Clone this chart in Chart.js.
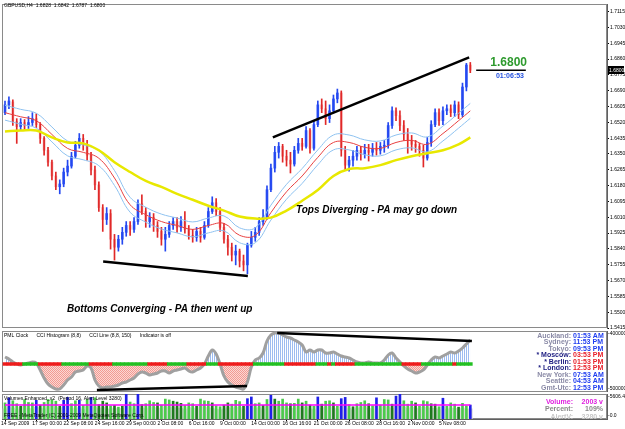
<!DOCTYPE html>
<html>
<head>
<meta charset="utf-8">
<script src="https://cdn.jsdelivr.net/npm/chart.js@4.4.1/dist/chart.umd.min.js"></script>
<style>
  html, body { margin: 0; padding: 0; background: #fff; }
  #wrap { position: relative; width: 625px; height: 429px; overflow: hidden; background: #fff; }
  canvas { position: absolute; left: 0; }
  #main { top: 0; }
  #cci { top: 330px; }
  #vol { top: 392px; }
</style>
</head>
<body>
<div id="wrap">
  <canvas id="main" width="625" height="334"></canvas>
  <canvas id="cci" width="625" height="62"></canvas>
  <canvas id="vol" width="625" height="37"></canvas>
</div>
<script>
// GBPUSD H4 — price panel, CCI histogram panel, volume panel

const symbol = 'GBPUSD,H4';

const open = [1.6572,1.6614,1.6630,1.6524,1.6497,1.6519,1.6503,1.6519,1.6540,1.6508,
  1.6434,1.6370,1.6306,1.6232,1.6174,1.6189,1.6253,1.6285,1.6338,1.6397,
  1.6434,1.6402,1.6344,1.6264,1.6184,1.6062,1.5998,1.6030,1.5892,1.5849,
  1.5892,1.5929,1.5966,1.5945,1.5987,1.6083,1.6041,1.5987,1.6009,1.5966,
  1.5934,1.5892,1.5918,1.5966,1.5987,1.5956,1.5987,1.5945,1.5913,1.5902,
  1.5934,1.5902,1.5966,1.6041,1.6088,1.6041,1.5956,1.5892,1.5849,1.5807,
  1.5828,1.5775,1.5754,1.5860,1.5902,1.5929,1.5987,1.6009,1.6158,1.6274,
  1.6359,1.6391,1.6338,1.6317,1.6296,1.6370,1.6407,1.6391,1.6476,1.6381,
  1.6508,1.6614,1.6593,1.6540,1.6582,1.6646,1.6678,1.6370,1.6290,1.6317,
  1.6338,1.6370,1.6349,1.6370,1.6359,1.6381,1.6370,1.6391,1.6397,1.6503,
  1.6582,1.6556,1.6503,1.6455,1.6423,1.6402,1.6391,1.6370,1.6328,1.6412,
  1.6508,1.6572,1.6529,1.6582,1.6593,1.6572,1.6614,1.6561,1.6710,1.6828];

const high = [1.6635,1.6657,1.6641,1.6540,1.6540,1.6535,1.6551,1.6572,1.6566,1.6519,
  1.6444,1.6386,1.6317,1.6253,1.6211,1.6274,1.6317,1.6359,1.6418,1.6460,
  1.6455,1.6423,1.6359,1.6285,1.6200,1.6078,1.6062,1.6051,1.5918,1.5913,
  1.5956,1.5987,1.5987,1.6009,1.6104,1.6131,1.6062,1.6035,1.6030,1.5987,
  1.5956,1.5956,1.5987,1.6009,1.6009,1.6014,1.6041,1.5966,1.5945,1.5956,
  1.5956,1.5987,1.6062,1.6120,1.6110,1.6062,1.5977,1.5913,1.5871,1.5860,
  1.5839,1.5807,1.5871,1.5934,1.5956,1.6009,1.6051,1.6179,1.6296,1.6391,
  1.6412,1.6402,1.6370,1.6359,1.6391,1.6434,1.6434,1.6497,1.6487,1.6529,
  1.6635,1.6646,1.6635,1.6614,1.6667,1.6699,1.6689,1.6391,1.6338,1.6370,
  1.6391,1.6391,1.6402,1.6402,1.6407,1.6412,1.6412,1.6423,1.6519,1.6604,
  1.6598,1.6582,1.6529,1.6487,1.6450,1.6423,1.6407,1.6397,1.6439,1.6529,
  1.6593,1.6593,1.6604,1.6614,1.6614,1.6635,1.6630,1.6731,1.6837,1.6842];

const low = [1.6561,1.6593,1.6503,1.6407,1.6476,1.6476,1.6487,1.6503,1.6492,1.6407,
  1.6344,1.6285,1.6211,1.6158,1.6136,1.6174,1.6232,1.6274,1.6328,1.6381,
  1.6370,1.6317,1.6237,1.6158,1.6041,1.5934,1.5971,1.5839,1.5780,1.5828,
  1.5865,1.5908,1.5913,1.5929,1.5971,1.6025,1.5956,1.5956,1.5934,1.5902,
  1.5860,1.5828,1.5902,1.5945,1.5929,1.5934,1.5924,1.5892,1.5876,1.5881,
  1.5876,1.5892,1.5956,1.6030,1.6019,1.5934,1.5871,1.5807,1.5775,1.5754,
  1.5743,1.5722,1.5706,1.5849,1.5881,1.5913,1.5966,1.5998,1.6147,1.6253,
  1.6328,1.6306,1.6285,1.6248,1.6285,1.6354,1.6370,1.6381,1.6354,1.6370,
  1.6497,1.6572,1.6508,1.6519,1.6572,1.6625,1.6338,1.6264,1.6258,1.6285,
  1.6317,1.6317,1.6328,1.6312,1.6338,1.6344,1.6349,1.6359,1.6381,1.6487,
  1.6529,1.6476,1.6423,1.6354,1.6370,1.6359,1.6338,1.6280,1.6317,1.6391,
  1.6497,1.6503,1.6508,1.6561,1.6551,1.6551,1.6540,1.6551,1.6689,1.6787];

const close = [1.6614,1.6635,1.6524,1.6497,1.6519,1.6503,1.6519,1.6540,1.6508,1.6434,
  1.6370,1.6306,1.6232,1.6174,1.6189,1.6253,1.6285,1.6338,1.6397,1.6434,
  1.6402,1.6344,1.6264,1.6184,1.6062,1.5998,1.6030,1.5892,1.5849,1.5892,
  1.5929,1.5966,1.5945,1.5987,1.6083,1.6041,1.5987,1.6009,1.5966,1.5934,
  1.5892,1.5918,1.5966,1.5987,1.5956,1.5987,1.5945,1.5913,1.5902,1.5934,
  1.5902,1.5966,1.6041,1.6088,1.6041,1.5956,1.5892,1.5849,1.5807,1.5828,
  1.5775,1.5754,1.5860,1.5902,1.5929,1.5987,1.6009,1.6158,1.6274,1.6359,
  1.6391,1.6338,1.6317,1.6296,1.6370,1.6407,1.6391,1.6476,1.6381,1.6508,
  1.6614,1.6593,1.6540,1.6582,1.6646,1.6678,1.6370,1.6290,1.6317,1.6338,
  1.6370,1.6349,1.6370,1.6359,1.6381,1.6370,1.6391,1.6397,1.6503,1.6582,
  1.6556,1.6503,1.6455,1.6423,1.6402,1.6391,1.6370,1.6328,1.6412,1.6508,
  1.6572,1.6529,1.6582,1.6593,1.6572,1.6614,1.6561,1.6710,1.6828,1.6800];

// moving averages, read every 4th bar
const maBars = [0,4,8,12,16,20,24,28,32,36,40,44,48,52,56,60,64,68,72,76,80,84,88,92,96,100,104,108,112,116,119];
const maSlow = [1.6471,1.6476,1.6476,1.6439,1.6412,1.6407,1.6370,1.6306,1.6253,1.6205,1.6173,1.6136,1.6104,1.6072,1.6046,1.6014,
  1.6003,1.6008,1.6046,1.6099,1.6157,1.6232,1.6269,1.6274,1.6290,1.6317,1.6338,1.6354,1.6370,1.6402,1.6439];
const maMid = [1.6572,1.6550,1.6529,1.6455,1.6380,1.6359,1.6327,1.6221,1.6077,1.6024,1.5987,1.5966,1.5945,1.5966,1.5977,1.5913,
  1.5913,1.6035,1.6147,1.6232,1.6332,1.6412,1.6412,1.6386,1.6380,1.6412,1.6423,1.6402,1.6460,1.6529,1.6582];
const maUpper = [1.6612,1.6590,1.6569,1.6495,1.6420,1.6399,1.6367,1.6261,1.6117,1.6064,1.6027,1.6006,1.5985,1.6006,1.6017,1.5953,
  1.5953,1.6075,1.6187,1.6272,1.6372,1.6452,1.6452,1.6426,1.6420,1.6452,1.6463,1.6442,1.6500,1.6569,1.6622];
const maLower = [1.6532,1.6510,1.6489,1.6415,1.6340,1.6319,1.6287,1.6181,1.6037,1.5984,1.5947,1.5926,1.5905,1.5926,1.5937,1.5873,
  1.5873,1.5995,1.6107,1.6192,1.6292,1.6372,1.6372,1.6346,1.6340,1.6372,1.6383,1.6362,1.6420,1.6489,1.6542];

// hand-drawn trend lines: [bar, price]
const topsLine = [[68.5, 1.6439], [118.7, 1.6869]];
const bottomsLine = [[25.1, 1.5772], [62.1, 1.5695]];

const priceTicks = [1.5415,1.5500,1.5585,1.5670,1.5755,1.5840,1.5925,1.6010,1.6095,1.6180,1.6265,
  1.6350,1.6435,1.6520,1.6605,1.6690,1.6775,1.6860,1.6945,1.7030,1.7115];
const barTimer = '01:06:53';

// CCI histogram
const cci = [70,50,20,0,-10,0,10,20,10,-60,
  -140,-200,-230,-250,-250,-210,-160,-130,-80,-70,
  -60,-20,-40,-160,-220,-240,-230,-230,-220,-210,
  -190,-180,-160,-140,-100,-80,-90,-110,-100,-90,
  -70,-70,-90,-70,-60,-50,-40,-70,-80,-60,
  -40,0,80,140,100,0,-120,-180,-210,-230,
  -240,-250,-180,-30,40,60,110,230,290,310,
  310,290,270,260,240,220,190,120,140,120,
  140,140,110,110,120,100,80,70,60,40,
  20,10,10,20,10,10,10,40,90,110,
  60,20,-20,-50,-70,-90,-80,-60,-10,40,
  70,60,80,100,120,110,130,160,200,240];
const cciTrend = [0,0,0,0,0,1,1,1,1,0, 0,0,0,0,0,1,1,1,1,1, 1,1,0,0,0,0,0,0,1,1,
  1,1,1,1,1,1,1,0,0,0, 0,0,1,1,1,1,1,0,0,0, 0,0,1,1,1,0,0,0,0,0,
  0,0,0,0,1,1,1,1,1,1, 1,1,0,0,0,0,0,0,0,0, 1,1,1,0,1,0,0,0,0,0,
  1,1,1,1,1,1,1,1,1,1, 1,1,0,0,0,0,0,1,1,1, 1,1,1,1,1,0,1,1,1,1];
const cciTopLine = [[69.6, 310], [119.4, 230]];
const cciBottomLine = [[23.5, -260], [61.9, -220]];
const cciScaleLabels = ['400000', '500000'];

const clockCities = ['Auckland', 'Sydney', 'Tokyo', '* Moscow', '* Berlin', '* London', 'New York', 'Seattle', 'Gmt-Utc'];
const clockTimes = ['01:53 AM', '11:53 PM', '09:53 PM', '03:53 PM', '01:53 PM', '12:53 PM', '07:53 AM', '04:53 AM', '12:53 PM'];
const clockOpen = [0, 0, 0, 1, 1, 1, 0, 0, 0];

// volumes
const vol = [3800,5000,4300,3600,3000,4600,3900,3800,4400,3300,
  3900,4600,4500,4200,3000,4400,5100,3600,4300,4400,
  3200,4600,5100,5000,3400,4200,3800,3100,3200,2800,
  3000,5800,4000,3600,6200,3400,3600,4300,3900,3800,
  3300,4700,4500,4200,4000,3700,3200,3800,3600,3000,
  4700,4300,4200,3800,3100,2900,3300,3800,3500,4400,
  4100,3000,4800,5200,3600,3800,3200,4600,5600,4700,
  4200,4700,3800,3600,3700,4700,3800,4200,3300,3000,
  5200,3500,4200,4300,3800,3000,4800,5100,3400,2900,
  3600,3900,4300,3600,3100,5000,3300,4600,4500,3500,
  5400,5900,4300,3500,4200,3800,3000,4300,4100,3600,
  3500,2900,4900,3000,3800,3500,2800,3700,3100,3300];
const volType = ('gbggdgggbd' + 'ggggdbbggb' + 'ggbgdddgdg' + 'dbggbdgggd' + 'gggdddgggd' + 'gggdggddgg' +
  'gdbbggdgbd' + 'gggdggdgdg' + 'bdggdgbbgd' + 'gggdgbgggd' + 'bbgggdgggd' + 'dgbgggdggb').split('');
const volAvg = [2400,2900,2600,2200,2700,3000,2500,2300,2800,2600,
  2400,2900,3100,2700,2500,2800,3000,2600,2400,2700,
  2300,2900,3100,2800,2500,2700,2400,2200,2600,2300,
  2500,3100,2800,2400,3200,2600,2500,2900,2700,2600,
  2400,2900,2800,2700,2600,2500,2300,2700,2600,2400,
  2900,2800,2700,2500,2300,2200,2400,2700,2500,2800,
  2700,2300,2900,3100,2600,2700,2400,2900,3200,3000,
  2800,2900,2600,2500,2600,2900,2600,2800,2400,2300,
  3000,2500,2800,2900,2600,2300,2900,3100,2500,2200,
  2600,2700,2900,2500,2300,3000,2400,2900,2800,2500,
  3100,3200,2800,2500,2800,2600,2300,2800,2700,2500,
  2500,2200,2900,2300,2600,2500,2200,2600,2300,2400];
const alertLevel = 3280;
const volNow = '2003 v', volPercent = '109%', volAlert = '3280 v';
const volScaleLabels = ['5606.4', '0.0'];

const dateBars = [0,8,16,24,32,40,48,56,64,72,80,88,96,104,112];
const dateLabels = ['14 Sep 2009','17 Sep 00:00','22 Sep 08:00','24 Sep 16:00','29 Sep 00:00','2 Oct 08:00',
  '6 Oct 16:00','9 Oct 00:00','14 Oct 00:00','16 Oct 16:00','21 Oct 00:00','26 Oct 08:00','28 Oct 16:00',
  '2 Nov 00:00','5 Nov 08:00'];

// ---------------------------------------------------------------------------

Chart.defaults.font.family = '"Liberation Sans", Arial, sans-serif';
Chart.defaults.animation = false;

const X_MIN = -0.77, X_MAX = 153.96;
const FONT = '"Liberation Sans", Arial, sans-serif';
const bars = open.map((_, i) => i);
const last = bars.length - 1;
const bull = close.map((c, i) => c >= open[i]);

const pts = (xs, ys) => xs.map((x, k) => ({ x, y: ys[k] }));
const seg = (line) => line.map(([x, y]) => ({ x, y }));

function xAxis() {
  return { type: 'linear', min: X_MIN, max: X_MAX, offset: false, display: false, grid: { offset: false } };
}

function rightAxis(extra) {
  return Object.assign({
    position: 'right',
    afterFit: (s) => { s.width = 18; },
    grid: { drawOnChartArea: false, tickLength: 2, color: '#000' },
    border: { color: '#606060' },
  }, extra);
}

function pattern(colors, w, h) {
  const c = document.createElement('canvas');
  c.width = w;
  c.height = h;
  const g = c.getContext('2d');
  colors.forEach((col, k) => {
    g.fillStyle = col;
    g.fillRect(k % w, Math.floor(k / w), 1, 1);
  });
  return g.createPattern(c, 'repeat');
}

const framePlugin = {
  id: 'frame',
  beforeDatasetsDraw(chart) {
    const { ctx, chartArea: a } = chart;
    ctx.save();
    ctx.strokeStyle = '#8a8a8a';
    ctx.lineWidth = 1;
    ctx.strokeRect(a.left + 0.5, a.top + 0.5, a.right - a.left - 1, a.bottom - a.top - 1);
    ctx.restore();
  },
};

// min / max captions on the right edge of a sub-window
function scaleCaptions(chart, labels) {
  const { ctx, chartArea: a } = chart;
  ctx.save();
  ctx.font = '5px ' + FONT;
  ctx.fillStyle = '#000';
  ctx.textBaseline = 'middle';
  ctx.textAlign = 'left';
  ctx.fillText('-' + labels[0], a.right + 1, a.top + 3);
  ctx.fillText('-' + labels[1], a.right + 1, a.bottom - 3);
  ctx.restore();
}

function trendDataset(line) {
  return {
    type: 'line', data: seg(line), borderColor: '#000', borderWidth: 2.5,
    pointRadius: 0, order: 0,
  };
}

function maDataset(ys, color, width, order) {
  return {
    type: 'line', data: pts(maBars, ys), borderColor: color, borderWidth: width,
    pointRadius: 0, tension: 0.4, order,
  };
}

// ---- price panel ----
const mainText = {
  id: 'mainText',
  afterDatasetsDraw(chart) {
    const { ctx, scales: { y } } = chart;
    const py = y.getPixelForValue(close[last]);
    ctx.save();
    ctx.textBaseline = 'middle';
    ctx.fillStyle = '#000';
    ctx.font = '5px ' + FONT;
    ctx.fillText(`${symbol}  ${open[last].toFixed(4)}  ${high[last].toFixed(4)}  ${low[last].toFixed(4)}  ${close[last].toFixed(4)}`, 4, 6);
    ctx.font = 'italic bold 10px ' + FONT;
    ctx.fillText('Tops Diverging - PA may go down', 296, 210);
    ctx.fillText('Bottoms Converging - PA then went up', 67, 309);
    ctx.textAlign = 'right';
    ctx.font = 'bold 12px ' + FONT;
    ctx.fillStyle = '#2e9a2e';
    ctx.fillText(close[last].toFixed(4), 527, py - 8);
    ctx.font = 'bold 7px ' + FONT;
    ctx.fillStyle = '#2451e0';
    ctx.fillText(barTimer, 524, py + 6);
    ctx.restore();
  },
  afterDraw(chart) {
    const { ctx, scales: { y } } = chart;
    const py = y.getPixelForValue(close[last]);
    ctx.save();
    ctx.fillStyle = '#000';
    ctx.fillRect(608, Math.round(py) - 4, 16, 8);
    ctx.fillStyle = '#fff';
    ctx.font = '5px ' + FONT;
    ctx.textBaseline = 'middle';
    ctx.fillText(close[last].toFixed(4), 609, py);
    ctx.restore();
  },
};

new Chart(document.getElementById('main'), {
  type: 'bar',
  data: {
    datasets: [
      {
        label: 'body', data: bars.map((i) => ({ x: i, y: [Math.min(open[i], close[i]), Math.max(open[i], close[i])] })),
        backgroundColor: bull.map((b) => (b ? '#3a5cf5' : '#f4a6a6')),
        barThickness: 2, grouped: false, order: 10,
      },
      {
        label: 'wick', data: bars.map((i) => ({ x: i, y: [low[i], high[i]] })),
        backgroundColor: bull.map((b) => (b ? '#2448f0' : '#e02828')),
        barThickness: 1, grouped: false, order: 9,
      },
      maDataset(maUpper, '#8ec2f0', 1, 6),
      maDataset(maLower, '#8ec2f0', 1, 6),
      maDataset(maMid, '#e84040', 1, 5),
      maDataset(maSlow, '#e8e800', 2.5, 4),
      trendDataset(topsLine),
      trendDataset(bottomsLine),
      {
        type: 'line', data: [{ x: 120.5, y: close[last] }, { x: 133.2, y: close[last] }],
        borderColor: '#000', borderWidth: 1.5, pointRadius: 0, order: 0,
      },
    ],
  },
  options: {
    responsive: false,
    devicePixelRatio: 1,
    layout: { padding: { left: 2, top: 2, right: 0, bottom: 6 } },
    plugins: { legend: { display: false }, tooltip: { enabled: false } },
    scales: {
      x: xAxis(),
      y: rightAxis({
        min: 1.5415, max: 1.7156,
        afterBuildTicks: (s) => { s.ticks = priceTicks.map((v) => ({ value: v })); },
        ticks: { font: { size: 5 }, color: '#000', padding: 1, callback: (v) => v.toFixed(4) },
      }),
    },
  },
  plugins: [framePlugin, mainText],
});

// ---- CCI panel ----
const cciText = {
  id: 'cciText',
  afterDatasetsDraw(chart) {
    const { ctx } = chart;
    ctx.save();
    ctx.textBaseline = 'middle';
    ctx.fillStyle = '#000';
    ctx.font = '5px ' + FONT;
    ctx.fillText('PML Clock      CCI Histogram (8,8)      CCI Line (8,8, 150)      Indicator is off', 4, 6);
    ctx.font = 'bold 7px ' + FONT;
    clockCities.forEach((city, k) => {
      const yy = 5.7 + k * 6.5;
      ctx.textAlign = 'right';
      ctx.fillStyle = clockOpen[k] ? '#1c1c80' : '#8a8aa6';
      ctx.fillText(city + ':', 571, yy);
      ctx.textAlign = 'left';
      ctx.fillStyle = clockOpen[k] ? '#e8202a' : '#1f3df0';
      ctx.fillText(clockTimes[k], 573, yy);
    });
    ctx.restore();
    scaleCaptions(chart, cciScaleLabels);
  },
};

new Chart(document.getElementById('cci'), {
  type: 'bar',
  data: {
    datasets: [
      {
        type: 'line', data: pts(bars, cci), borderColor: '#a0a0a0', borderWidth: 3,
        pointRadius: 0, tension: 0.35, order: 3,
        fill: { target: 'origin', above: pattern(['#9dbcf0', '#ffffff'], 2, 1), below: pattern(['#f29a92', '#fbd8d4', '#fbd8d4', '#f29a92'], 2, 2) },
      },
      {
        label: 'trend', data: bars.map((i) => ({ x: i, y: [-14, 14] })),
        backgroundColor: cciTrend.map((t) => (t ? '#22c022' : '#ee1c1c')),
        barThickness: 4, grouped: false, order: 2,
      },
      trendDataset(cciTopLine),
      trendDataset(cciBottomLine),
    ],
  },
  options: {
    responsive: false,
    devicePixelRatio: 1,
    layout: { padding: { left: 2, top: 1, right: 0, bottom: 0 } },
    plugins: { legend: { display: false }, tooltip: { enabled: false } },
    scales: {
      x: xAxis(),
      y: rightAxis({ min: -280, max: 330, ticks: { display: false }, grid: { display: false } }),
    },
  },
  plugins: [framePlugin, cciText],
});

// ---- volume panel ----
const volText = {
  id: 'volText',
  afterDatasetsDraw(chart) {
    const { ctx } = chart;
    ctx.save();
    ctx.textBaseline = 'middle';
    ctx.fillStyle = '#000';
    ctx.font = '5px ' + FONT;
    ctx.fillText('Volumes Enhanced_v2  (Period 16, Alert Level ' + alertLevel + ')', 4, 7);
    ctx.fillText('FREE - MetaTrader (C) 2001-2009 MetaQuotes Software Corp.', 4, 24);
    ctx.font = 'bold 7px ' + FONT;
    const rows = [['Volume:', volNow, '#e020e0'], ['Percent:', volPercent, '#888888'], ['AlertV:', volAlert, '#c8c8c8']];
    rows.forEach(([k, v, col], r) => {
      const yy = 9.7 + r * 7.5;
      ctx.fillStyle = col;
      ctx.textAlign = 'right';
      ctx.fillText(k, 573, yy);
      ctx.fillText(v, 603, yy);
    });
    ctx.restore();
    scaleCaptions(chart, volScaleLabels);
  },
};

const volColors = { g: '#4cc94c', d: '#1f7a1f', b: '#2020e8' };

new Chart(document.getElementById('vol'), {
  type: 'bar',
  data: {
    datasets: [
      {
        label: 'avg', data: pts(bars, volAvg), backgroundColor: '#dadada',
        barThickness: 4, grouped: false, order: 3,
      },
      {
        label: 'volume', data: pts(bars, vol), backgroundColor: volType.map((t) => volColors[t]),
        barThickness: 2, grouped: false, order: 2,
      },
      {
        type: 'line', data: [{ x: 0, y: alertLevel }, { x: last, y: alertLevel }],
        borderColor: '#ff00ff', borderWidth: 1.5, pointRadius: 0, order: 1,
      },
    ],
  },
  options: {
    responsive: false,
    devicePixelRatio: 1,
    layout: { padding: { left: 2, top: 2, right: 0, bottom: 0 } },
    plugins: { legend: { display: false }, tooltip: { enabled: false } },
    scales: {
      x: {
        type: 'linear', min: X_MIN, max: X_MAX, offset: false, position: 'bottom',
        afterBuildTicks: (s) => { s.ticks = dateBars.map((v) => ({ value: v })); },
        afterFit: (s) => { s.height = 10; },
        grid: { drawOnChartArea: false, tickLength: 2, color: '#000', offset: false },
        border: { color: '#606060' },
        ticks: {
          autoSkip: false, maxRotation: 0, align: 'start', labelOffset: -4, padding: 0,
          font: { size: 5 }, color: '#000', callback: (v, i) => dateLabels[i],
        },
      },
      y: rightAxis({ min: 0, max: 5900, ticks: { display: false }, grid: { display: false } }),
    },
  },
  plugins: [framePlugin, volText],
});
</script>
</body>
</html>
